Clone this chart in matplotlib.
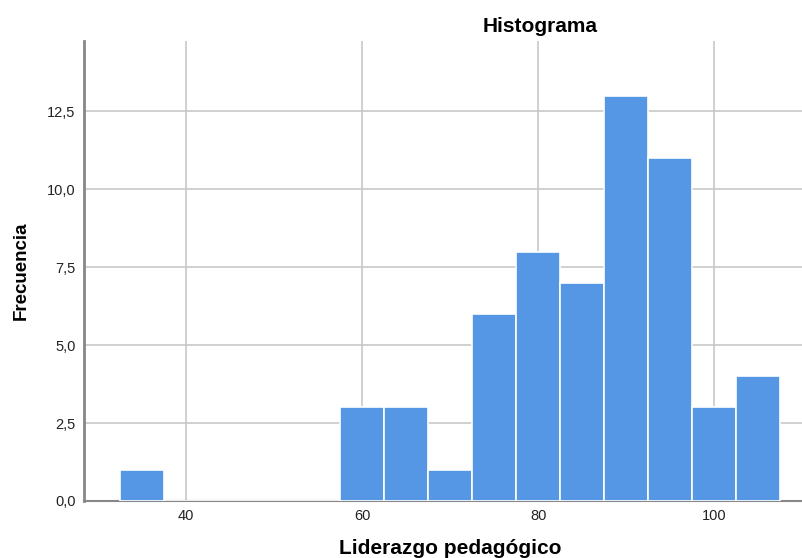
import matplotlib
matplotlib.use('Agg')
import matplotlib.pyplot as plt
from matplotlib.ticker import FuncFormatter

plt.rcParams['font.family'] = ['Liberation Sans', 'DejaVu Sans']

# bin centres (width 5) and frequencies
bin_centers = [35, 40, 45, 50, 55, 60, 65, 70, 75, 80, 85, 90, 95, 100, 105]
counts = [1, 0, 0, 0, 0, 3, 3, 1, 6, 8, 7, 13, 11, 3, 4]
bin_width = 5
x_ticks = [40, 60, 80, 100]
y_ticks = [0, 2.5, 5, 7.5, 10, 12.5]

bar_color = '#5596e5'
grid_color = '#c8c8c8'

fig = plt.figure(figsize=(8.03, 5.58), dpi=100, facecolor='white')
W, H = 803, 558
ax = fig.add_axes([84 / W, (H - 501) / H, (W - 84) / W, (501 - 41) / H])

ax.bar(bin_centers, counts, width=bin_width, color=bar_color,
       edgecolor='white', linewidth=1.2, zorder=3)

ax.set_xlim(28.4, 110.1)
ax.set_ylim(0, 14.75)
ax.set_xticks(x_ticks)
ax.set_yticks(y_ticks)
ax.yaxis.set_major_formatter(FuncFormatter(lambda v, p: f'{v:.1f}'.replace('.', ',')))
ax.tick_params(length=0, labelsize=10.5, colors='#222222', pad=6)

ax.grid(True, color=grid_color, linewidth=1.2, zorder=0)
for s in ['top', 'right']:
    ax.spines[s].set_visible(False)
ax.spines['left'].set_color('#888888')
ax.spines['left'].set_linewidth(2)
ax.spines['bottom'].set_color('#888888')
ax.spines['bottom'].set_linewidth(1.5)

fig.text(540 / W, 1 - 27 / H, 'Histograma', ha='center', va='center',
         fontsize=15, fontweight='bold')
fig.text(450 / W, 1 - 548 / H, 'Liderazgo pedagógico', ha='center', va='center',
         fontsize=15, fontweight='bold')
fig.text(21 / W, 1 - 271 / H, 'Frecuencia', ha='center', va='center',
         fontsize=13.5, fontweight='bold', rotation=90)

plt.savefig('out.png', dpi=100, facecolor='white')
